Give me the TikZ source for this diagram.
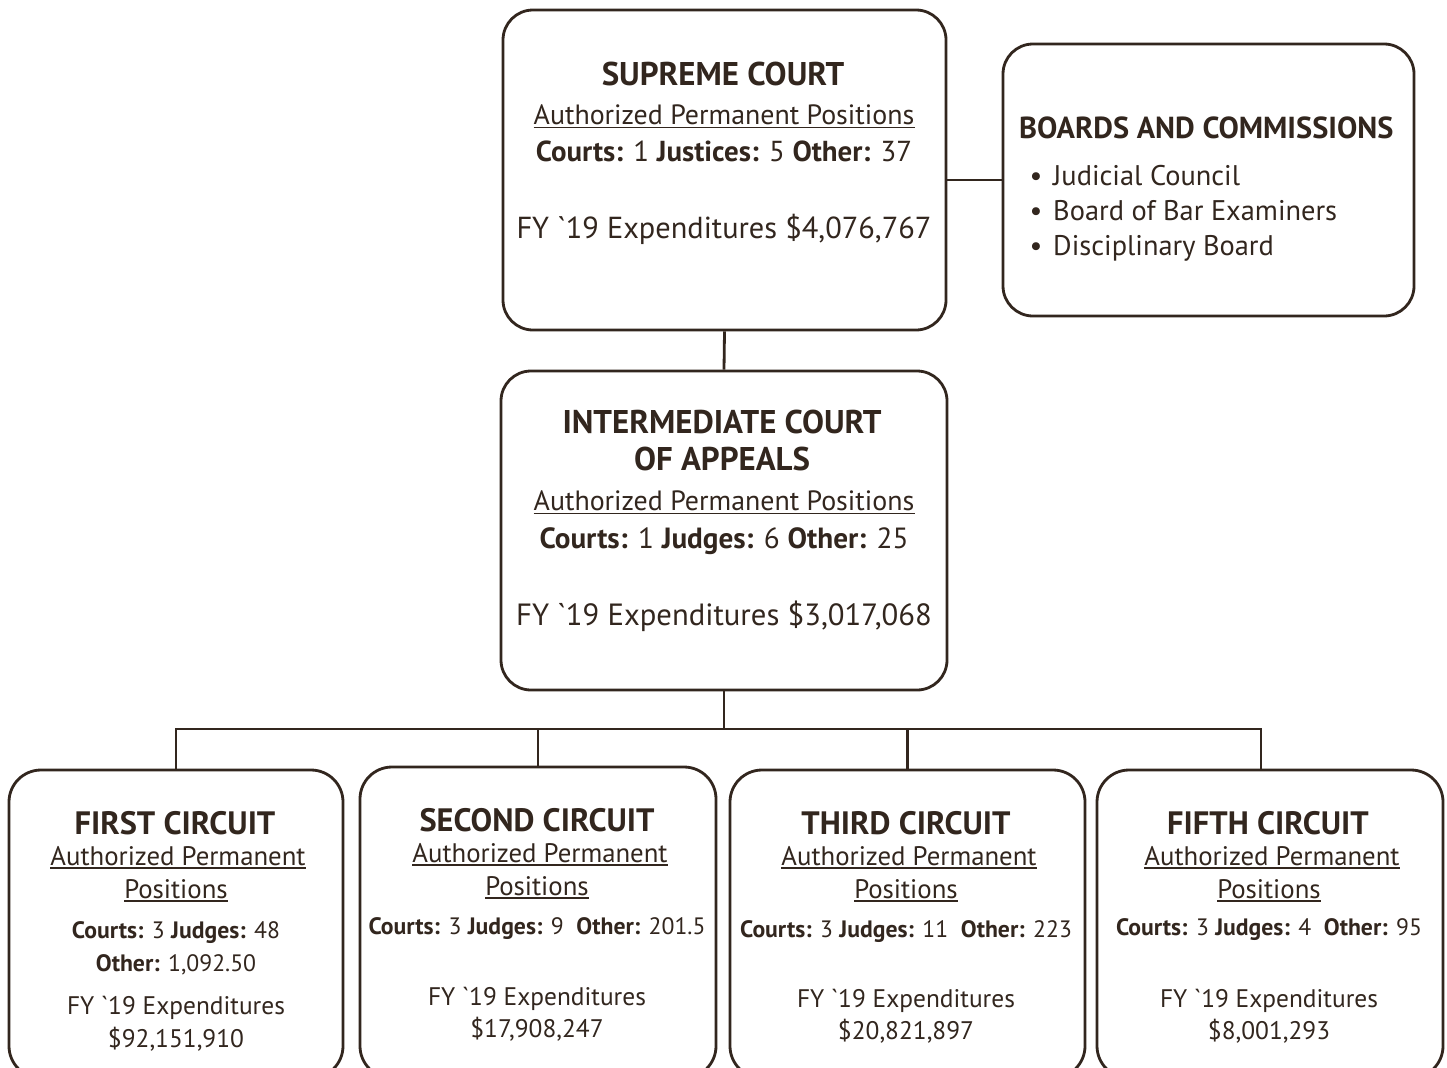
\documentclass[tikz,border=0pt]{standalone}
\usepackage{fontspec}
\setmainfont{PT Sans}[Ligatures=TeXOff]
\definecolor{ink}{RGB}{50,38,30}
\newcommand\fsz[1]{\fontsize{#1}{#1}\selectfont}
\begin{document}
\begin{tikzpicture}[x={(1bp,0)},y={(0,-1bp)},
  box/.style={draw=ink,line width=2.8bp,rounded corners=30bp,inner sep=0,fill=white},
  conn/.style={draw=ink,line width=2.8bp},
  txt/.style={inner sep=0,anchor=base,text=ink},
  uline/.style={draw=ink,line width=1.4bp}]
\useasboundingbox (0,0) rectangle (1447,1067);
\clip (0,0) rectangle (1447,1067);
\fill[white] (0,0) rectangle (1447,1067);
% boxes
\node[box,minimum width=443bp,minimum height=320bp] (sc) at (724.5,170) {};
\node[box,minimum width=411bp,minimum height=272bp] (bc) at (1208.5,180) {};
\node[box,minimum width=446bp,minimum height=319bp] (ica) at (724,530.5) {};
\node[box,minimum width=334bp,minimum height=308bp,rounded corners=32bp] (c1) at (176,924) {};
\node[box,minimum width=356bp,minimum height=311bp,rounded corners=32bp] (c2) at (538,922.5) {};
\node[box,minimum width=355bp,minimum height=308bp,rounded corners=32bp] (c3) at (907.5,924) {};
\node[box,minimum width=346bp,minimum height=308bp,rounded corners=32bp] (c5) at (1270,924) {};
% connectors
\coordinate (bus) at (725,729);
\coordinate (d5) at (1261,770);
\draw[conn] (bc.west) -- (bc.west -| sc.east);
\draw[conn] (sc.south) -- (ica.north);
\draw[conn] (ica.south) -- (ica.south |- bus);
\draw[conn] (c1.north) -- (c1.north |- bus) -- (d5 |- bus) -- (d5);
\draw[conn] (c2.north) -- (c2.north |- bus);
\draw[conn] (c3.north) -- (c3.north |- bus);
% supreme court
\node[txt,font=\fsz{33}\bfseries] (s1) at (723,85) {SUPREME COURT};
\node[txt,font=\fsz{28}] (s2) at (724,124) {Authorized Permanent Positions};
\draw[uline] ([yshift=-3.5bp]s2.base west) -- ([yshift=-3.5bp]s2.base east);
\node[txt,font=\fsz{29}] (s3) at (724,161) {\textbf{Courts:} 1 \textbf{Justices:} 5 \textbf{Other:} 37};
\node[txt,font=\fsz{30.5}] (s4) at (724,238) {FY `19 Expenditures \$4,076,767};
% boards
\node[txt,anchor=base west,font=\fsz{30.5}\bfseries] (b1) at (1019,138) {BOARDS AND COMMISSIONS};
\node[txt,anchor=base,font=\fsz{28.5}] (b2d) at (1036,185) {\textbullet};
\node[txt,anchor=base west,font=\fsz{28.5}] (b2) at (1053,185) {Judicial Council};
\node[txt,anchor=base,font=\fsz{28.5}] (b3d) at (1036,220) {\textbullet};
\node[txt,anchor=base west,font=\fsz{28.5}] (b3) at (1053,220) {Board of Bar Examiners};
\node[txt,anchor=base,font=\fsz{28.5}] (b4d) at (1036,255) {\textbullet};
\node[txt,anchor=base west,font=\fsz{28.5}] (b4) at (1053,255) {Disciplinary Board};
% intermediate
\node[txt,font=\fsz{33}\bfseries] (i1) at (722,433) {INTERMEDIATE COURT};
\node[txt,font=\fsz{33}\bfseries] (i2) at (722,470) {OF APPEALS};
\node[txt,font=\fsz{28}] (i3) at (724,510) {Authorized Permanent Positions};
\draw[uline] ([yshift=-3.5bp]i3.base west) -- ([yshift=-3.5bp]i3.base east);
\node[txt,font=\fsz{29.3}] (i4) at (724,548) {\textbf{Courts:} 1 \textbf{Judges:} 6 \textbf{Other:} 25};
\node[txt,font=\fsz{30.8}] (i5) at (724,625) {FY `19 Expenditures \$3,017,068};
% first circuit
\node[txt,font=\fsz{32.5}\bfseries] (f1) at (175,834) {FIRST CIRCUIT};
\node[txt,font=\fsz{26.9}] (f2) at (178,865) {Authorized Permanent\ };
\draw[uline] ([yshift=-3bp]f2.base west) -- ([yshift=-3bp]f2.base east);
\node[txt,font=\fsz{26.9}] (f3) at (176,898) {Positions};
\draw[uline] ([yshift=-3bp]f3.base west) -- ([yshift=-3bp]f3.base east);
\node[txt,font=\fsz{23.8}] (f4) at (176,938) {\textbf{Courts:} 3 \textbf{Judges:} 48};
\node[txt,font=\fsz{23.8}] (f5) at (176,971) {\textbf{Other:} 1,092.50};
\node[txt,font=\fsz{25.5}] (f6) at (176,1014) {FY `19 Expenditures};
\node[txt,font=\fsz{25.5}] (f7) at (176,1047) {\$92,151,910};
% second circuit
\node[txt,font=\fsz{32.5}\bfseries] (g1) at (537,831) {SECOND CIRCUIT};
\node[txt,font=\fsz{26.9}] (g2) at (540,862) {Authorized Permanent\ };
\draw[uline] ([yshift=-3bp]g2.base west) -- ([yshift=-3bp]g2.base east);
\node[txt,font=\fsz{26.9}] (g3) at (537,895) {Positions};
\draw[uline] ([yshift=-3bp]g3.base west) -- ([yshift=-3bp]g3.base east);
\node[txt,font=\fsz{23.8}] (g4) at (537,934) {\textbf{Courts:} 3 \textbf{Judges:} 9\ \ \textbf{Other:} 201.5};
\node[txt,font=\fsz{25.5}] (g5) at (537,1005) {FY `19 Expenditures};
\node[txt,font=\fsz{25.5}] (g6) at (537,1037) {\$17,908,247};
% third circuit
\node[txt,font=\fsz{32.5}\bfseries] (h1) at (906,834) {THIRD CIRCUIT};
\node[txt,font=\fsz{26.9}] (h2) at (909,865) {Authorized Permanent\ };
\draw[uline] ([yshift=-3bp]h2.base west) -- ([yshift=-3bp]h2.base east);
\node[txt,font=\fsz{26.9}] (h3) at (906,898) {Positions};
\draw[uline] ([yshift=-3bp]h3.base west) -- ([yshift=-3bp]h3.base east);
\node[txt,font=\fsz{23.8}] (h4) at (906,937) {\textbf{Courts:} 3 \textbf{Judges:} 11\ \ \textbf{Other:} 223};
\node[txt,font=\fsz{25.5}] (h5) at (906,1007) {FY `19 Expenditures};
\node[txt,font=\fsz{25.5}] (h6) at (906,1039) {\$20,821,897};
% fifth circuit
\node[txt,font=\fsz{32.5}\bfseries] (k1) at (1268,834) {FIFTH CIRCUIT};
\node[txt,font=\fsz{26.9}] (k2) at (1272,865) {Authorized Permanent\ };
\draw[uline] ([yshift=-3bp]k2.base west) -- ([yshift=-3bp]k2.base east);
\node[txt,font=\fsz{26.9}] (k3) at (1269,898) {Positions};
\draw[uline] ([yshift=-3bp]k3.base west) -- ([yshift=-3bp]k3.base east);
\node[txt,font=\fsz{23.8}] (k4) at (1269,935) {\textbf{Courts:} 3 \textbf{Judges:} 4\ \ \textbf{Other:} 95};
\node[txt,font=\fsz{25.5}] (k5) at (1269,1007) {FY `19 Expenditures};
\node[txt,font=\fsz{25.5}] (k6) at (1269,1039) {\$8,001,293};
\end{tikzpicture}
\end{document}
